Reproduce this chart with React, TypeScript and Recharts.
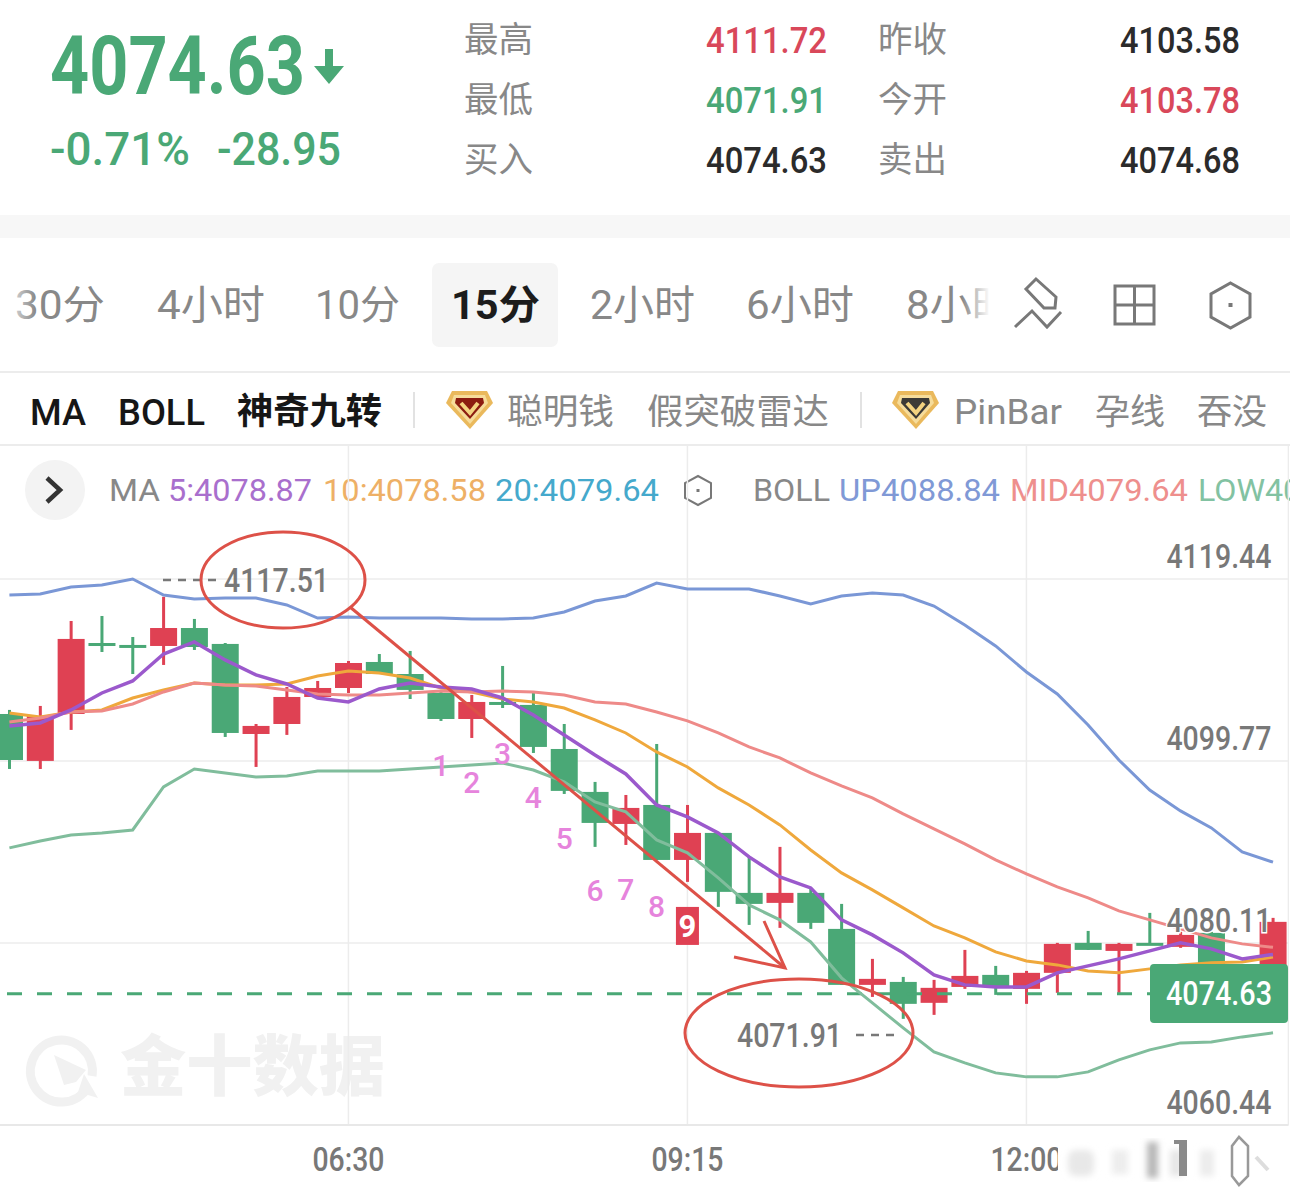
import React from 'react';
import { ComposedChart, Bar, Line, XAxis, YAxis, CartesianGrid, ReferenceLine } from 'recharts';

const times = [
  '03:45', '04:00', '04:15', '04:30', '04:45', '05:00', '05:15', '05:30', '05:45', '06:00', '06:15', '06:30', '06:45', '07:00',
  '07:15', '07:30', '07:45', '08:00', '08:15', '08:30', '08:45', '09:00', '09:15', '09:30', '09:45', '10:00', '10:15', '10:30',
  '10:45', '11:00', '11:15', '11:30', '11:45', '12:00', '12:15', '12:30', '12:45', '13:00', '13:15', '13:30', '13:45', '14:00',
];
const opens = [
  4104.85, 4099.78, 4104.85, 4112.52, 4112.31, 4112.2, 4114.14, 4112.42, 4102.69, 4103.77, 4106.69, 4107.66, 4110.47, 4109.17,
  4107.12, 4104.31, 4106.15, 4105.83, 4101.07, 4096.43, 4092.97, 4095.02, 4089.08, 4092.0, 4085.52, 4084.44, 4085.52, 4081.63,
  4075.58, 4075.9, 4073.64, 4075.36, 4076.66, 4075.15, 4076.88, 4080.12, 4079.25, 4080.12, 4079.69, 4081.2, 4077.42, 4076.66,
];
const closes = [
  4099.88, 4104.64, 4112.96, 4112.42, 4112.09, 4114.14, 4112.09, 4102.8, 4103.56, 4106.69, 4107.66, 4110.36, 4109.17, 4107.45,
  4104.31, 4106.15, 4105.93, 4101.29, 4096.54, 4093.08, 4094.7, 4089.08, 4092.0, 4085.63, 4084.33, 4085.52, 4082.28, 4075.58,
  4076.23, 4073.53, 4075.26, 4076.55, 4075.36, 4076.88, 4080.01, 4079.36, 4080.01, 4080.01, 4080.98, 4076.66, 4075.58, 4082.39,
];
const highs = [
  4105.29, 4105.72, 4114.9, 4115.44, 4113.17, 4117.51, 4115.12, 4112.52, 4103.77, 4107.77, 4108.42, 4110.58, 4111.33, 4111.66,
  4107.23, 4106.91, 4110.04, 4107.12, 4103.77, 4097.51, 4096.1, 4101.61, 4095.02, 4092.0, 4089.41, 4090.49, 4086.06, 4084.33,
  4078.39, 4076.44, 4076.12, 4079.36, 4077.63, 4077.09, 4080.12, 4081.41, 4080.12, 4083.36, 4081.31, 4081.31, 4077.63, 4082.82,
];
const lows = [
  4098.91, 4098.91, 4103.13, 4111.55, 4109.17, 4110.15, 4111.77, 4102.37, 4099.13, 4102.59, 4106.69, 4107.12, 4109.17, 4106.47,
  4104.1, 4102.26, 4105.5, 4100.64, 4096.21, 4090.49, 4090.7, 4089.08, 4086.71, 4084.01, 4082.06, 4081.74, 4081.63, 4075.58,
  4074.28, 4071.91, 4072.34, 4075.15, 4074.5, 4073.53, 4074.72, 4079.36, 4074.72, 4080.01, 4079.58, 4076.66, 4073.96, 4075.58,
];
const ma5 = [
  4103.56, 4103.88, 4105.29, 4107.12, 4108.42, 4111.33, 4112.63, 4110.69, 4109.07, 4108.09, 4106.58, 4106.15, 4107.55, 4108.2,
  4107.77, 4107.55, 4106.58, 4104.75, 4102.59, 4100.42, 4098.37, 4095.02, 4093.73, 4092.0, 4089.41, 4087.25, 4086.06, 4082.6,
  4080.98, 4079.04, 4076.66, 4075.58, 4075.36, 4075.36, 4076.88, 4077.63, 4078.39, 4079.25, 4080.12, 4079.47, 4078.39, 4078.87,
];
const ma10 = [
  4104.96, 4104.53, 4105.07, 4105.29, 4106.58, 4107.45, 4108.2, 4107.99, 4107.99, 4108.09, 4108.96, 4109.5, 4109.28, 4108.74,
  4107.66, 4107.23, 4106.47, 4106.15, 4105.5, 4104.21, 4102.8, 4100.75, 4099.13, 4096.86, 4095.02, 4092.86, 4090.16, 4087.68,
  4085.84, 4083.9, 4081.95, 4080.66, 4079.14, 4078.17, 4077.74, 4077.09, 4076.88, 4077.31, 4077.74, 4077.96, 4078.06, 4078.58,
];
const bollUp = [
  4117.71, 4117.82, 4118.57, 4118.79, 4119.44, 4117.71, 4117.28, 4117.38, 4117.38, 4116.63, 4115.22, 4115.33, 4115.22, 4115.22,
  4115.22, 4115.12, 4115.12, 4115.22, 4115.87, 4117.06, 4117.6, 4119.0, 4118.36, 4118.36, 4118.36, 4117.6, 4116.74, 4117.6,
  4117.92, 4117.71, 4116.52, 4114.47, 4112.2, 4109.39, 4107.01, 4103.67, 4099.88, 4096.64, 4094.38, 4092.54, 4089.95, 4088.84,
];
const bollMid = [
  4103.99, 4104.42, 4105.07, 4105.18, 4105.93, 4107.23, 4108.2, 4107.99, 4107.88, 4107.45, 4107.01, 4106.91, 4106.91, 4107.12,
  4107.34, 4107.23, 4107.34, 4107.23, 4106.91, 4106.15, 4105.93, 4105.07, 4104.1, 4102.8, 4101.29, 4100.1, 4098.48, 4097.08,
  4095.78, 4094.05, 4092.43, 4090.81, 4089.08, 4087.57, 4086.17, 4084.98, 4083.57, 4082.6, 4081.63, 4080.66, 4080.01, 4079.64,
];
const bollLow = [
  4090.38, 4091.13, 4091.78, 4092.0, 4092.32, 4096.97, 4098.91, 4098.48, 4098.05, 4098.16, 4098.7, 4098.7, 4098.7, 4098.91,
  4099.13, 4099.34, 4099.56, 4098.8, 4097.51, 4095.35, 4094.27, 4091.24, 4089.84, 4087.14, 4084.22, 4082.6, 4080.22, 4076.34,
  4073.64, 4070.93, 4068.34, 4067.15, 4066.07, 4065.64, 4065.64, 4066.18, 4067.48, 4068.56, 4069.31, 4069.42, 4069.96, 4070.4,
];
// 神奇九转 labels, counted from the 4th 15-min bar after 06:30
const nineTurnStart = 14;
const nineTurnLevels = [4099.34, 4097.51, 4100.64, 4095.89, 4091.46, 4085.84, 4085.95, 4084.11, 4081.95];

const xTicks = ['06:30', '09:15', '12:00'];
const yTicks = [4060.44, 4080.11, 4099.77, 4119.44];
const lastPrice = 4074.63;

const RED = '#df4153';
const GREEN = '#4aa876';
const GREY = '#888888';
const AXIS_GREY = '#787878';
const NUM_FONT = 'Roboto, sans-serif';
const CJK_FONT = 'Roboto, "Noto Sans CJK SC", sans-serif';

const data = times.map((time, i) => ({
  time,
  open: opens[i],
  close: closes[i],
  range: [lows[i], highs[i]],
  ma5: ma5[i],
  ma10: ma10[i],
  up: bollUp[i],
  mid: bollMid[i],
  low: bollLow[i],
  turn: i >= nineTurnStart && i < nineTurnStart + nineTurnLevels.length ? nineTurnLevels[i - nineTurnStart] : null,
}));

// text squeezed to the measured width, the app uses a narrow DIN face
const T = ({ x, y, w, size, fill = GREY, weight = 400, family = CJK_FONT, children }: any) => (
  <text x={x} y={y} fontSize={size} fill={fill} fontWeight={weight} fontFamily={family} textLength={w} lengthAdjust="spacingAndGlyphs">
    {children}
  </text>
);

const Candle = (props: any) => {
  const { x, y, width, height, payload } = props;
  const [lo, hi] = payload.range;
  const perUnit = hi > lo ? height / (hi - lo) : 0;
  const top = y + (hi - Math.max(payload.open, payload.close)) * perUnit;
  const bottom = y + (hi - Math.min(payload.open, payload.close)) * perUnit;
  const color = payload.close > payload.open ? RED : GREEN;
  return (
    <g>
      <rect x={x + width / 2 - 1.5} y={y} width={3} height={height} fill={color} />
      <rect x={x} y={top} width={width} height={Math.max(bottom - top, 3)} fill={color} />
    </g>
  );
};

const TurnDot = (props: any) => {
  const { cx, cy, index, payload } = props;
  if (payload.turn == null) return <g key={index} />;
  const n = index - nineTurnStart + 1;
  if (n === 9) {
    return (
      <g key={index}>
        <rect x={cx - 11.5} y={cy - 19} width={23} height={38} fill={RED} />
        <text x={cx} y={cy + 11} textAnchor="middle" fontSize={31} fontWeight={700} fill="#fff" fontFamily={NUM_FONT}>9</text>
      </g>
    );
  }
  return (
    <text key={index} x={cx} y={cy + 11} textAnchor="middle" fontSize={30} fontWeight={500} fill="#e684dc" fontFamily={NUM_FONT}>{n}</text>
  );
};

const YTick = ({ y, payload }: any) => (
  <text
    x={1277.41 - 105}
    y={y - 11}
    fontSize={34}
    fontWeight={500}
    fill={AXIS_GREY}
    stroke="#fff"
    strokeWidth={3}
    paintOrder="stroke"
    fontFamily={NUM_FONT}
    textLength={105}
    lengthAdjust="spacingAndGlyphs"
  >
    {payload.value.toFixed(2)}
  </text>
);

const XTick = ({ x, y, payload }: any) => (
  <text x={x - 36} y={y + 38} fontSize={34} fontWeight={500} fill={AXIS_GREY} fontFamily={NUM_FONT} textLength={72} lengthAdjust="spacingAndGlyphs">
    {payload.value}
  </text>
);

const Diamond = ({ x, y, inner }: any) => (
  <g transform={`translate(${x} ${y})`}>
    <polygon points="6,1 41,1 47,13 24,39 0,13" fill="#eab95c" />
    <polygon points="8,5 39,5 42,13 24,34 5,13" fill="#f6dc9a" />
    <polygon points="10,8 37,8 38,13 24,29 9,13" fill={inner} />
    <polyline points="15,13 24,23 32,13" fill="none" stroke="#f3d27f" strokeWidth={4} />
  </g>
);

const Header = () => (
  <svg width={1290} height={1195} style={{ position: 'absolute', left: 0, top: 0 }}>
    <T x={50} y={94} w={255} size={81} fill={GREEN} weight={700} family={NUM_FONT}>4074.63</T>
    <polygon points="325,49 333,49 333,66 344,66 329,84 314,66 325,66" fill={GREEN} />
    <T x={50} y={165} w={140} size={46} fill={GREEN} weight={500} family={NUM_FONT}>-0.71%</T>
    <T x={217} y={165} w={124} size={46} fill={GREEN} weight={500} family={NUM_FONT}>-28.95</T>

    <T x={464} y={52} w={69} size={35}>最高</T>
    <T x={464} y={112} w={69} size={35}>最低</T>
    <T x={464} y={172} w={69} size={35}>买入</T>
    <T x={706} y={53} w={121} size={36} fill="#d9485a" weight={500} family={NUM_FONT}>4111.72</T>
    <T x={706} y={113} w={121} size={36} fill={GREEN} weight={500} family={NUM_FONT}>4071.91</T>
    <T x={706} y={173} w={121} size={36} fill="#2b2b2b" weight={500} family={NUM_FONT}>4074.63</T>
    <T x={878} y={52} w={69} size={35}>昨收</T>
    <T x={878} y={112} w={69} size={35}>今开</T>
    <T x={878} y={172} w={69} size={35}>卖出</T>
    <T x={1120} y={53} w={120} size={36} fill="#2b2b2b" weight={500} family={NUM_FONT}>4103.58</T>
    <T x={1120} y={113} w={120} size={36} fill="#d9485a" weight={500} family={NUM_FONT}>4103.78</T>
    <T x={1120} y={173} w={120} size={36} fill="#2b2b2b" weight={500} family={NUM_FONT}>4074.68</T>

    <rect x={0} y={215} width={1290} height={23} fill="#f7f7f7" />

    <rect x={432} y={263} width={126} height={84} rx={7} fill="#f5f5f5" />
    <T x={15} y={319} w={90} size={40}>30分</T>
    <T x={157} y={319} w={108} size={40}>4小时</T>
    <T x={315} y={319} w={85} size={40}>10分</T>
    <T x={451} y={319} w={89} size={40} fill="#1c1c1c" weight={700}>15分</T>
    <T x={590} y={319} w={105} size={40}>2小时</T>
    <T x={746} y={319} w={108} size={40}>6小时</T>
    <T x={906} y={319} w={108} size={40}>8小时</T>
    <defs>
      <linearGradient id="fadeL"><stop offset="0" stopColor="#fff" /><stop offset="1" stopColor="#fff" stopOpacity={0} /></linearGradient>
      <linearGradient id="fadeR"><stop offset="0" stopColor="#fff" stopOpacity={0} /><stop offset="1" stopColor="#fff" /></linearGradient>
    </defs>
    <rect x={0} y={280} width={36} height={50} fill="url(#fadeL)" />
    <rect x={962} y={280} width={28} height={50} fill="url(#fadeR)" />
    <rect x={990} y={280} width={24} height={50} fill="#fff" />

    <g fill="none" stroke={AXIS_GREY} strokeWidth={3}>
      <polygon points="1036,279 1056,297 1055,308 1044,308 1026,289" />
      <polyline points="1015,327 1032,311 1047,327 1061,312" />
      <rect x={1115} y={286} width={39} height={38} />
      <line x1={1134.5} y1={286} x2={1134.5} y2={324} />
      <line x1={1115} y1={305} x2={1154} y2={305} />
      <polygon points="1230.5,283 1250,294 1250,317 1230.5,328 1211,317 1211,294" />
    </g>
    <rect x={1228.5} y={303} width={4} height={4} fill={AXIS_GREY} />

    <rect x={0} y={371} width={1290} height={2} fill="#ececec" />
    <rect x={0} y={444} width={1290} height={2} fill="#ececec" />

    <T x={30} y={425} w={56} size={37} fill="#161616" weight={500}>MA</T>
    <T x={118} y={425} w={87} size={37} fill="#161616" weight={500}>BOLL</T>
    <T x={237} y={424} w={145} size={36} fill="#161616" weight={700}>神奇九转</T>
    <rect x={413} y={392} width={2} height={36} fill="#e2e2e2" />
    <Diamond x={446} y={390} inner="#8c1c10" />
    <T x={507} y={424} w={107} size={35}>聪明钱</T>
    <T x={647} y={424} w={182} size={35}>假突破雷达</T>
    <rect x={860} y={392} width={2} height={36} fill="#e2e2e2" />
    <Diamond x={892} y={390} inner="#3c3a36" />
    <T x={954} y={424} w={108} size={35}>PinBar</T>
    <T x={1095} y={424} w={70} size={35}>孕线</T>
    <T x={1197} y={424} w={70} size={35}>吞没</T>

    <circle cx={55} cy={490} r={30} fill="#f3f3f3" />
    <polyline points="47,478 60,490 47,502" fill="none" stroke="#333" strokeWidth={4.5} />
    <T x={109} y={501} w={51} size={32}>MA</T>
    <T x={168} y={501} w={144} size={32} fill="#a96fcd">5:4078.87</T>
    <T x={323} y={501} w={163} size={32} fill="#eeb066">10:4078.58</T>
    <T x={495} y={501} w={164} size={32} fill="#45a9cc">20:4079.64</T>
    <polygon points="698,476 711,483 711,498 698,505 685,498 685,483" fill="none" stroke={AXIS_GREY} strokeWidth={2} />
    <rect x={696.5} y={489} width={3} height={3} fill={AXIS_GREY} />
    <T x={753} y={501} w={77} size={32}>BOLL</T>
    <T x={839} y={501} w={161} size={32} fill="#8099d6">UP4088.84</T>
    <T x={1010} y={501} w={178} size={32} fill="#ee8f8d">MID4079.64</T>
    <T x={1198} y={501} w={184} size={32} fill="#82c2a2">LOW4070.44</T>

    {/* watermark, under the chart */}
    <g transform="translate(2 0)">
      <path d="M 86 1087 A 31 31 0 1 1 90 1076" fill="none" stroke="#f1f1f1" strokeWidth={9} />
      <polygon points="52,1055 84,1070 74,1082 62,1085" fill="#f1f1f1" />
      <polygon points="82,1074 96,1098 76,1092" fill="#f1f1f1" />
    </g>
    <text x={120} y={1090} fontSize={66} fontWeight={900} fill="#f1f1f1" fontFamily={CJK_FONT} textLength={265} lengthAdjust="spacingAndGlyphs">金十数据</text>
  </svg>
);

const Overlay = () => (
  <svg width={1290} height={1195} style={{ position: 'absolute', left: 0, top: 0, pointerEvents: 'none' }}>
    <defs>
      <filter id="soft"><feGaussianBlur stdDeviation={3} /></filter>
      <linearGradient id="cover"><stop offset="0" stopColor="#fff" /><stop offset="1" stopColor="#fff" stopOpacity={0.95} /></linearGradient>
    </defs>

    <line x1={163} y1={580} x2={222} y2={580} stroke={AXIS_GREY} strokeWidth={2.5} strokeDasharray="8 7" />
    <T x={224} y={592} w={105} size={33} fill={AXIS_GREY} weight={500} family={NUM_FONT}>4117.51</T>
    <T x={737} y={1047} w={105} size={33} fill={AXIS_GREY} weight={500} family={NUM_FONT}>4071.91</T>
    <line x1={856} y1={1035} x2={898} y2={1035} stroke={AXIS_GREY} strokeWidth={2.5} strokeDasharray="8 7" />

    <g fill="none" stroke="#dd5148" strokeWidth={3}>
      <ellipse cx={283} cy={580} rx={82} ry={48} />
      <ellipse cx={799} cy={1033} rx={114} ry={54} />
      <line x1={350} y1={607} x2={785} y2={968} />
      <polyline points="764,921 785,968 734,957" />
    </g>

    <rect x={1150} y={964} width={138} height={59} rx={4} fill={GREEN} />
    <T x={1166} y={1005} w={106} size={34} fill="#fff" weight={500} family={NUM_FONT}>4074.63</T>

    {/* blurred stamp over the bottom-right corner */}
    <rect x={1058} y={1130} width={232} height={65} fill="url(#cover)" />
    <g filter="url(#soft)">
      <rect x={1068} y={1150} width={26} height={26} rx={8} fill="#e8e8e8" />
      <rect x={1112} y={1150} width={16} height={24} fill="#ededed" />
      <rect x={1147} y={1142} width={11} height={36} fill="#b8b8b8" />
      <rect x={1170} y={1150} width={12} height={26} fill="#e6e6e6" />
      <rect x={1200} y={1150} width={14} height={26} fill="#ececec" />
    </g>
    <rect x={1179} y={1140} width={8} height={36} fill="#8a8a8a" />
    <rect x={1174} y={1140} width={12} height={4} fill="#8a8a8a" />
    <polygon points="1239,1137 1248,1146 1248,1176 1239,1185 1232,1176 1232,1146" fill="none" stroke="#999" strokeWidth={2.5} />
    <line x1={1256} y1={1157} x2={1268} y2={1170} stroke="#ddd" strokeWidth={4} />
  </svg>
);

const App = () => (
  <div style={{ position: 'absolute', left: 0, top: 0, width: 1290, height: 1195, overflow: 'hidden', background: '#fff' }}>
    <Header />
    <div style={{ position: 'absolute', left: -6.41, top: 0 }}>
      <ComposedChart width={1295.41} height={1195} data={data} margin={{ top: 445, right: 0, bottom: 0, left: 0 }}>
        <CartesianGrid stroke="#ececec" strokeWidth={1.5} />
        <XAxis
          dataKey="time"
          height={70}
          ticks={xTicks}
          interval={0}
          tick={<XTick />}
          tickLine={false}
          axisLine={{ stroke: '#e8e8e8', strokeWidth: 2 }}
        />
        <ReferenceLine y={lastPrice} stroke={GREEN} strokeWidth={3} strokeDasharray="15 15" strokeDashoffset={23.59} />
        <Bar dataKey="range" barSize={27} shape={<Candle />} isAnimationActive={false} />
        <Line dataKey="low" stroke="#80bd9c" strokeWidth={3} dot={false} isAnimationActive={false} />
        <Line dataKey="up" stroke="#7a97d6" strokeWidth={3} dot={false} isAnimationActive={false} />
        <Line dataKey="ma10" stroke="#efa83c" strokeWidth={3} dot={false} isAnimationActive={false} />
        <Line dataKey="mid" stroke="#ee8a88" strokeWidth={3} dot={false} isAnimationActive={false} />
        <Line dataKey="ma5" stroke="#9b59cc" strokeWidth={3.5} dot={false} isAnimationActive={false} />
        <Line dataKey="turn" stroke="none" dot={<TurnDot />} isAnimationActive={false} />
        <YAxis
          orientation="right"
          width={1}
          zIndex={1000}
          domain={[4060.44, 4133.915]}
          allowDataOverflow
          ticks={yTicks}
          tick={<YTick />}
          tickLine={false}
          axisLine={false}
        />
      </ComposedChart>
    </div>
    <Overlay />
  </div>
);

export default App;
